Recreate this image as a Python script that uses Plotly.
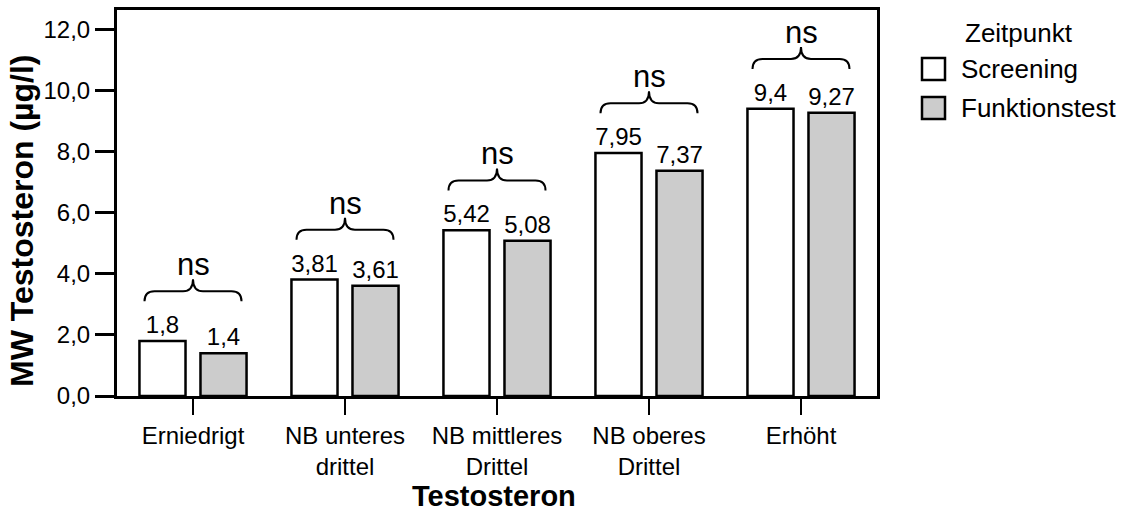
import plotly.graph_objects as go

# ---- data ----
categories = ["Erniedrigt", "NB unteres<br>drittel", "NB mittleres<br>Drittel",
              "NB oberes<br>Drittel", "Erhöht"]
screening = [1.8, 3.81, 5.42, 7.95, 9.4]
funktionstest = [1.4, 3.61, 5.08, 7.37, 9.27]
sig_labels = ["ns", "ns", "ns", "ns", "ns"]
y_ticks = [0, 2, 4, 6, 8, 10, 12]
series_names = ["Screening", "Funktionstest"]
legend_title = "Zeitpunkt"

FONT = "Liberation Sans, Arial, sans-serif"
W, H = 1125, 511
ML, MR, MT, MB = 117, 248, 10, 115
PW, PH = W - ML - MR, H - MT - MB


def fmt(v):
    return str(v).replace(".", ",")


x_idx = list(range(len(categories)))

fig = go.Figure()
fig.add_trace(go.Bar(
    x=x_idx, y=screening, name=series_names[0],
    marker=dict(color="white", line=dict(color="black", width=2.5)),
    text=[fmt(v) for v in screening], textposition="outside",
    textfont=dict(family=FONT, size=24, color="black"),
    constraintext="none", cliponaxis=False, showlegend=False,
))
fig.add_trace(go.Bar(
    x=x_idx, y=funktionstest, name=series_names[1],
    marker=dict(color="#cccccc", line=dict(color="black", width=2.5)),
    text=[fmt(v) for v in funktionstest], textposition="outside",
    textfont=dict(family=FONT, size=24, color="black"),
    constraintext="none", cliponaxis=False, showlegend=False,
))

# ---- significance braces ----
ppu = PH / 12.63  # pixels per y unit
xpu = PW / 5.0    # pixels per category
half_w = 48.5 / xpu
r = 10 / xpu
for i, (s, f) in enumerate(zip(screening, funktionstest)):
    m = max(s, f)
    yb = m + 1.3
    yl = yb + 10 / ppu
    yt = yb + 22 / ppu
    x0, x1, xc = i - half_w, i + half_w, i
    path = (f"M {x0},{yb} Q {x0},{yl} {x0 + r},{yl} L {xc - r},{yl} "
            f"Q {xc},{yl} {xc},{yt} Q {xc},{yl} {xc + r},{yl} "
            f"L {x1 - r},{yl} Q {x1},{yl} {x1},{yb}")
    fig.add_shape(type="path", path=path, xref="x", yref="y",
                  line=dict(color="black", width=2))
    fig.add_annotation(x=xc, y=yb + 1.2, xref="x", yref="y", text=sig_labels[i],
                       showarrow=False, xanchor="center", yanchor="middle",
                       font=dict(family=FONT, size=31, color="black"))


def px_x(p):
    return (p - ML) / PW


def px_y(p):
    return (H - MB - p) / PH


# ---- custom legend ----
fig.add_annotation(x=px_x(1019), y=px_y(33), xref="paper", yref="paper",
                   text=legend_title, showarrow=False, xanchor="center", yanchor="middle",
                   font=dict(family=FONT, size=26, color="black"))
leg_fill = ["white", "#cccccc"]
leg_y = [69, 108]
for name, col, cy in zip(series_names, leg_fill, leg_y):
    fig.add_shape(type="rect", xref="paper", yref="paper",
                  x0=px_x(922), x1=px_x(945), y0=px_y(cy - 11), y1=px_y(cy + 11),
                  fillcolor=col, line=dict(color="black", width=2.5))
    fig.add_annotation(x=px_x(959), y=px_y(cy), xref="paper", yref="paper",
                       text=name, showarrow=False, xanchor="left", yanchor="middle",
                       font=dict(family=FONT, size=26, color="black"))

# ---- axis titles ----
fig.add_annotation(x=px_x(494), y=px_y(496), xref="paper", yref="paper",
                   text="<b>Testosteron</b>", showarrow=False,
                   xanchor="center", yanchor="middle",
                   font=dict(family=FONT, size=29, color="black"))
fig.add_annotation(x=px_x(22), y=px_y(221), xref="paper", yref="paper",
                   text="<b>MW Testosteron (µg/l)</b>", showarrow=False, textangle=-90,
                   xanchor="center", yanchor="middle",
                   font=dict(family=FONT, size=32, color="black"))

fig.update_layout(
    width=W, height=H,
    margin=dict(l=ML, r=MR, t=MT, b=MB, autoexpand=False),
    paper_bgcolor="white", plot_bgcolor="white",
    barmode="group", bargap=0.197, bargroupgap=0.245,
    separators=",.",
    font=dict(family=FONT, color="black"),
    showlegend=False,
)
fig.update_xaxes(
    range=[-0.5, 4.5], tickmode="array", tickvals=x_idx, ticktext=categories,
    showline=True, linecolor="black", linewidth=3, mirror=True,
    ticks="outside", ticklen=16, tickwidth=2.2, tickcolor="black",
    showgrid=False, zeroline=False,
    tickfont=dict(family=FONT, size=24, color="black"),
)
fig.update_yaxes(
    range=[0, 12.63], tickmode="array", tickvals=y_ticks, tickformat=".1f",
    showline=True, linecolor="black", linewidth=3, mirror=True,
    ticks="outside", ticklen=19, tickwidth=2.5, tickcolor="black",
    showgrid=False, zeroline=False,
    tickfont=dict(family=FONT, size=24, color="black"),
)

fig.write_html("out.html", config={"displayModeBar": False},
               post_script="document.body.style.margin='0';document.body.style.padding='0';")
